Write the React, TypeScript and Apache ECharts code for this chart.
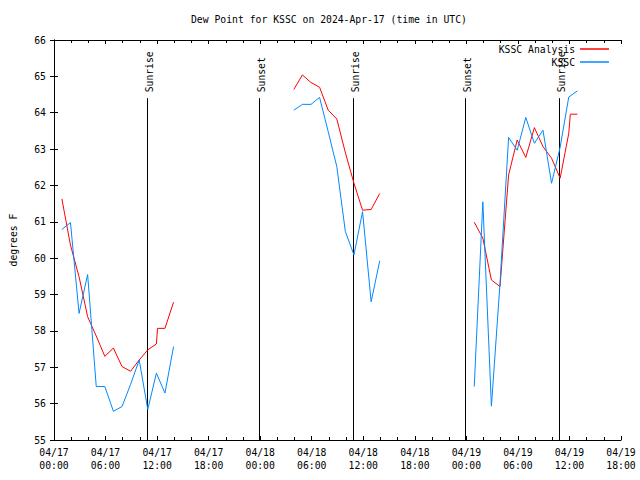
import React, { useEffect, useRef } from 'react';
import * as echarts from 'echarts';

const FONT = '"DejaVu Sans Mono", "Liberation Mono", monospace';
const FS = 9.75;

const titleText = 'Dew Point for KSSC on 2024-Apr-17 (time in UTC)';
const yAxisName = 'degrees F';

const xTickLabels = [
  '04/17\n00:00', '04/17\n06:00', '04/17\n12:00', '04/17\n18:00',
  '04/18\n00:00', '04/18\n06:00', '04/18\n12:00', '04/18\n18:00',
  '04/19\n00:00', '04/19\n06:00', '04/19\n12:00', '04/19\n18:00',
];

// Analysis (red)
const analysisDay1Times = ['04/17 00:55', '04/17 01:55', '04/17 02:55', '04/17 03:55', '04/17 04:55', '04/17 05:55', '04/17 06:55', '04/17 07:55', '04/17 08:55', '04/17 09:55', '04/17 10:55', '04/17 11:55', '04/17 12:03', '04/17 12:55', '04/17 13:55'];
const analysisDay1Values = [61.63, 60.36, 59.49, 58.39, 57.86, 57.30, 57.53, 57.02, 56.89, 57.20, 57.48, 57.64, 58.07, 58.07, 58.79];
const analysisDay2Times = ['04/18 03:55', '04/18 04:55', '04/18 05:55', '04/18 06:55', '04/18 07:55', '04/18 08:55', '04/18 09:55', '04/18 10:55', '04/18 11:55', '04/18 12:55', '04/18 13:55'];
const analysisDay2Values = [64.64, 65.04, 64.83, 64.70, 64.07, 63.83, 62.90, 62.06, 61.32, 61.34, 61.78];
const analysisDay3Times = ['04/19 00:55', '04/19 01:55', '04/19 02:55', '04/19 03:55', '04/19 04:55', '04/19 05:55', '04/19 06:55', '04/19 07:55', '04/19 08:55', '04/19 09:55', '04/19 10:55', '04/19 11:55', '04/19 12:06', '04/19 12:55'];
const analysisDay3Values = [60.99, 60.55, 59.40, 59.22, 62.29, 63.25, 62.77, 63.59, 63.07, 62.75, 62.20, 63.43, 63.96, 63.96];

// Observations (blue)
const obsDay1Times = ['04/17 00:55', '04/17 01:55', '04/17 02:55', '04/17 03:55', '04/17 04:55', '04/17 05:55', '04/17 06:55', '04/17 07:55', '04/17 08:55', '04/17 09:55', '04/17 10:55', '04/17 11:55', '04/17 12:55', '04/17 13:55'];
const obsDay1Values = [60.79, 60.98, 58.48, 59.55, 56.47, 56.47, 55.79, 55.92, 56.53, 57.20, 55.84, 56.84, 56.29, 57.57];
const obsDay2Times = ['04/18 03:55', '04/18 04:55', '04/18 05:55', '04/18 06:55', '04/18 07:55', '04/18 08:55', '04/18 09:55', '04/18 10:55', '04/18 11:55', '04/18 12:55', '04/18 13:55'];
const obsDay2Values = [64.07, 64.23, 64.23, 64.42, 63.48, 62.52, 60.73, 60.09, 61.28, 58.80, 59.93];
const obsDay3Times = ['04/19 00:55', '04/19 01:55', '04/19 02:55', '04/19 03:55', '04/19 04:55', '04/19 05:55', '04/19 06:55', '04/19 07:55', '04/19 08:55', '04/19 09:55', '04/19 10:55', '04/19 11:55', '04/19 12:55'];
const obsDay3Values = [56.47, 61.55, 55.93, 59.30, 63.32, 62.97, 63.87, 63.16, 63.52, 62.06, 63.05, 64.43, 64.60];

// Sunrise / sunset
const sunTimes = ['04/17 10:52', '04/17 23:52', '04/18 10:51', '04/18 23:53', '04/19 10:50'];
const sunLabels = ['Sunrise', 'Sunset', 'Sunrise', 'Sunset', 'Sunrise'];

function toHours(s: string): number {
  const [d, t] = s.split(' ');
  const day = parseInt(d.split('/')[1], 10) - 17;
  const [hh, mm] = t.split(':').map(Number);
  return day * 24 + hh + mm / 60;
}

function build(days: [string[], number[]][]): any[] {
  const out: any[] = [];
  days.forEach(([times, vals], i) => {
    if (i > 0) out.push(['-', '-']);
    times.forEach((t, j) => out.push([toHours(t), vals[j]]));
  });
  return out;
}

export default function App() {
  const ref = useRef<HTMLDivElement>(null);
  useEffect(() => {
    if (!ref.current) return;
    const chart = echarts.init(ref.current, undefined, { renderer: 'svg' });
    const axisLine = { show: true, lineStyle: { color: '#000', width: 1 } };
    const xCommon = {
      type: 'value' as const,
      min: 0,
      max: 66,
      interval: 6,
      axisLine,
      axisTick: { show: true, inside: true, length: 4, lineStyle: { color: '#000' } },
      minorTick: { show: true, splitNumber: 3, length: 3, lineStyle: { color: '#000' } },
      splitLine: { show: false },
      minorSplitLine: { show: false },
    };
    const yCommon = {
      type: 'value' as const,
      min: 55,
      max: 66,
      interval: 1,
      axisLine,
      axisTick: { show: true, inside: true, length: 4, lineStyle: { color: '#000' } },
      splitLine: { show: false },
    };
    const option: any = {
      animation: false,
      backgroundColor: '#fff',
      title: {
        text: titleText,
        left: 191,
        top: 13,
        padding: 0,
        textStyle: { fontFamily: FONT, fontSize: FS, fontWeight: 'normal', color: '#000', lineHeight: 12 },
      },
      legend: {
        data: ['KSSC Analysis', 'KSSC'],
        orient: 'vertical',
        right: 31,
        top: 43,
        align: 'right',
        icon: 'rect',
        itemWidth: 29,
        itemHeight: 1.5,
        itemGap: 1,
        padding: 0,
        selectedMode: false,
        textStyle: { fontFamily: FONT, fontSize: FS, color: '#000', lineHeight: 12 },
      },
      grid: { left: 47, right: 19, top: 40, bottom: 40, containLabel: false },
      xAxis: [
        {
          ...xCommon,
          position: 'bottom',
          axisLabel: {
            show: true,
            margin: 6,
            fontFamily: FONT,
            fontSize: FS,
            color: '#000',
            lineHeight: 13,
            formatter: (v: number) => xTickLabels[Math.round(v / 6)] ?? '',
          },
        },
        { ...xCommon, position: 'top', axisLabel: { show: false } },
      ],
      yAxis: [
        {
          ...yCommon,
          position: 'left',
          name: yAxisName,
          nameLocation: 'middle',
          nameGap: 36,
          nameRotate: 90,
          nameTextStyle: { fontFamily: FONT, fontSize: FS, color: '#000' },
          axisLabel: { show: true, margin: 8, fontFamily: FONT, fontSize: FS, color: '#000' },
        },
        { ...yCommon, position: 'right', axisLabel: { show: false } },
      ],
      series: [
        {
          type: 'custom',
          name: 'sun',
          xAxisIndex: 0,
          yAxisIndex: 0,
          silent: true,
          data: sunTimes.map((t) => [toHours(t), 55]),
          renderItem: (params: any, api: any) => {
            const t = api.value(0);
            const top = api.coord([t, 64.4]);
            const bottom = api.coord([t, 55]);
            const lab = api.coord([t, 64.56]);
            const x = Math.round(top[0]) + 0.5;
            return {
              type: 'group',
              children: [
                {
                  type: 'line',
                  shape: { x1: x, y1: top[1], x2: x, y2: bottom[1] },
                  style: { stroke: '#000', lineWidth: 1 },
                },
                {
                  type: 'text',
                  x: x + 1.5,
                  y: lab[1],
                  rotation: Math.PI / 2,
                  style: {
                    text: sunLabels[params.dataIndex],
                    fill: '#000',
                    font: `${FS}px ${FONT}`,
                    align: 'left',
                    verticalAlign: 'middle',
                  },
                },
              ],
            };
          },
        },
        {
          type: 'line',
          name: 'KSSC Analysis',
          xAxisIndex: 0,
          yAxisIndex: 0,
          showSymbol: false,
          symbol: 'none',
          color: '#ff0000',
          lineStyle: { color: '#ff0000', width: 1 },
          data: build([
            [analysisDay1Times, analysisDay1Values],
            [analysisDay2Times, analysisDay2Values],
            [analysisDay3Times, analysisDay3Values],
          ]),
        },
        {
          type: 'line',
          name: 'KSSC',
          xAxisIndex: 0,
          yAxisIndex: 0,
          showSymbol: false,
          symbol: 'none',
          color: '#0088ff',
          lineStyle: { color: '#0088ff', width: 1 },
          data: build([
            [obsDay1Times, obsDay1Values],
            [obsDay2Times, obsDay2Values],
            [obsDay3Times, obsDay3Values],
          ]),
        },
      ],
    };
    chart.setOption(option);
    return () => chart.dispose();
  }, []);
  return <div ref={ref} style={{ width: 640, height: 480, position: 'absolute', left: 0, top: 0 }} />;
}
